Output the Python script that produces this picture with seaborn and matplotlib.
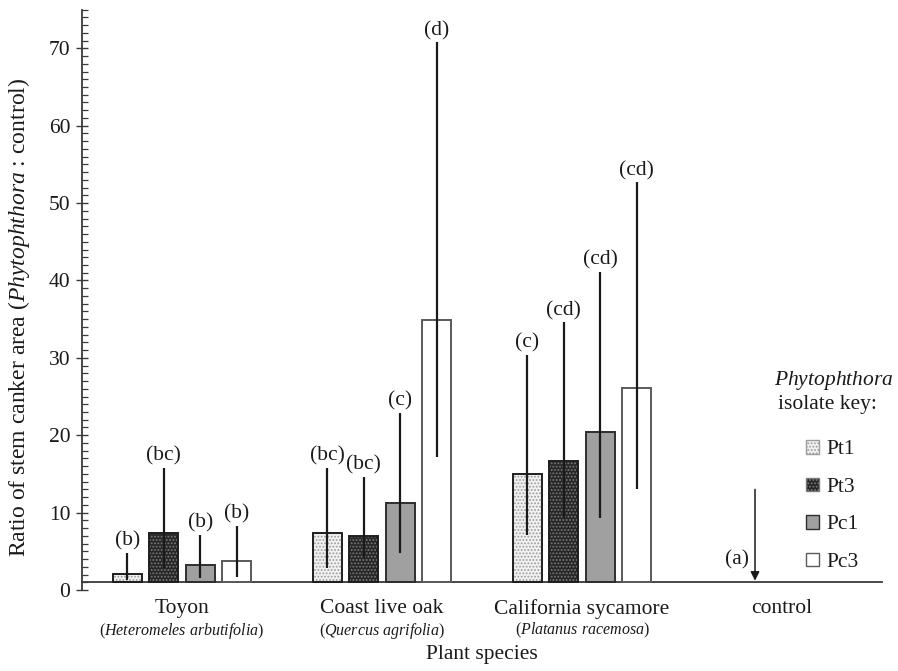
import numpy as np
import pandas as pd
import seaborn as sns
import matplotlib
matplotlib.use("Agg")
import matplotlib.pyplot as plt
from matplotlib.patches import Patch, Rectangle

# ---------------- data ----------------
species = ["Toyon", "Coast live oak", "California sycamore", "control"]
sci_names = ["Heteromeles arbutifolia", "Quercus agrifolia", "Platanus racemosa"]
isolates = ["Pt1", "Pt3", "Pc1", "Pc3"]

toyon_ratio = [2.1, 7.4, 3.2, 3.7]
oak_ratio = [7.4, 7.0, 11.2, 34.9]
sycamore_ratio = [15.0, 16.7, 20.4, 26.1]

toyon_lower = [1.3, 2.8, 1.5, 1.7]
toyon_upper = [4.8, 15.8, 7.1, 8.3]
oak_lower = [2.8, 4.1, 4.8, 17.2]
oak_upper = [15.8, 14.6, 22.9, 70.8]
sycamore_lower = [7.1, 9.3, 9.3, 13.0]
sycamore_upper = [30.4, 34.6, 41.1, 52.7]

toyon_letters = ["(b)", "(bc)", "(b)", "(b)"]
oak_letters = ["(bc)", "(bc)", "(c)", "(d)"]
sycamore_letters = ["(c)", "(cd)", "(cd)", "(cd)"]

control_ratio = 1.0
control_letter = "(a)"
y_ticks = [0, 10, 20, 30, 40, 50, 60, 70]

# ---------------- table ----------------
ratios = [toyon_ratio, oak_ratio, sycamore_ratio]
lowers = [toyon_lower, oak_lower, sycamore_lower]
uppers = [toyon_upper, oak_upper, sycamore_upper]
letters = [toyon_letters, oak_letters, sycamore_letters]
rows = []
for si, sp in enumerate(species[:3]):
    for ii, iso in enumerate(isolates):
        rows.append(dict(species=sp, isolate=iso, ratio=ratios[si][ii],
                         lower=lowers[si][ii], upper=uppers[si][ii],
                         letter=letters[si][ii]))
df = pd.DataFrame(rows)

# ---------------- style ----------------
sns.set_style("ticks")
plt.rcParams["font.family"] = ["Liberation Serif", "DejaVu Serif"]
plt.rcParams["mathtext.fontset"] = "custom"
plt.rcParams["mathtext.rm"] = "Liberation Serif"
plt.rcParams["mathtext.it"] = "Liberation Serif:italic"
plt.rcParams["hatch.linewidth"] = 0.9
FS = 15.5
INK = "#1a1a1a"
AX = "#3a3a3a"

face = {"Pt1": "#f2f2f2", "Pt3": "#262626", "Pc1": "#a0a0a0", "Pc3": "#ffffff"}
hatch = {"Pt1": ".....", "Pt3": ".....", "Pc1": None, "Pc3": None}
hatch_col = {"Pt1": "#9c9c9c", "Pt3": "#7a7a7a", "Pc1": "#1e1e1e", "Pc3": "#5a5a5a"}
outline = {"Pt1": "#1e1e1e", "Pt3": "#1e1e1e", "Pc1": "#2e2e2e", "Pc3": "#5a5a5a"}

fig = plt.figure(figsize=(8.98, 6.71), dpi=100)
ax = fig.add_axes([0.0913, 0.1207, 0.8909, 0.865])

sns.barplot(data=df, x="species", y="ratio", hue="isolate", order=species,
            hue_order=isolates, palette=face, width=0.73, gap=0.2,
            errorbar=None, legend=False, ax=ax, linewidth=0)

baseline = control_ratio
for iso, cont in zip(isolates, ax.containers):
    sub = df[df.isolate == iso].set_index("species").loc[species[:3]]
    for p, (_, r) in zip(cont.patches, sub.iterrows()):
        h = p.get_height()
        p.set_y(baseline)
        p.set_height(h - baseline)
        p.set_edgecolor(hatch_col[iso])
        if hatch[iso]:
            p.set_hatch(hatch[iso])
        ax.add_patch(Rectangle(p.get_xy(), p.get_width(), p.get_height(),
                               fill=False, edgecolor=outline[iso], lw=1.4, zorder=3))
        xc = p.get_x() + p.get_width() / 2
        ax.vlines(xc, r["lower"], r["upper"], color=INK, lw=1.6, zorder=5)
        ax.annotate(r["letter"], (xc, r["upper"]), xytext=(0, 1.5),
                    textcoords="offset points", ha="center", va="bottom",
                    fontsize=FS, color=INK)

# control
xc_ctrl = 3
ax.annotate("", xy=(xc_ctrl - 0.135, control_ratio + 0.2),
            xytext=(xc_ctrl - 0.135, 13.0),
            arrowprops=dict(arrowstyle="-|>", color=INK, lw=1.1,
                            mutation_scale=13, shrinkA=0, shrinkB=0))
ax.text(xc_ctrl - 0.225, control_ratio + 1.6, control_letter, ha="center",
        va="bottom", fontsize=FS, color=INK)

# axes
ax.set_xlim(-0.5, 3.5)
ax.set_ylim(0, 75)
ax.set_yticks(y_ticks)
ax.set_yticks(np.arange(0, 76, 1), minor=True)
ax.tick_params(axis="y", which="major", direction="inout", length=9, width=1,
               color=AX, labelsize=FS, pad=4, labelcolor=INK)
ax.tick_params(axis="y", which="minor", direction="in", length=4, width=0.9, color=AX)
ax.tick_params(axis="x", length=0, labelsize=FS, pad=12, labelcolor=INK)
ax.set_xticks(range(len(species)))
ax.set_xticklabels(species)
ax.spines["bottom"].set_position(("data", baseline))
for s in ["top", "right"]:
    ax.spines[s].set_visible(False)
for s in ["left", "bottom"]:
    ax.spines[s].set_color(AX)
    ax.spines[s].set_linewidth(1.3)

ax.set_ylabel(r"Ratio of stem canker area ($\it{Phytophthora}$ : control)",
              fontsize=17, color=INK)
ax.yaxis.set_label_coords(-0.062, 0.47)
ax.set_xlabel("")

for i, nm in enumerate(sci_names):
    ax.annotate("(" + r"$\it{" + nm.replace(" ", r"\ ") + "}$" + ")",
                (i, baseline), xytext=(0, -28), textcoords="offset points",
                ha="center", va="top", fontsize=11.5, color=INK,
                annotation_clip=False)
fig.text(0.537, 0.024, "Plant species", ha="center", va="center",
         fontsize=FS, color=INK)

# legend
fig.text(0.928, 1 - 380 / 671, r"$\it{Phytophthora}$", ha="center", va="center",
         fontsize=FS, color=INK)
fig.text(0.921, 1 - 405 / 671, "isolate key:", ha="center", va="center",
         fontsize=FS, color=INK)
handles = [Patch(facecolor=face[i], edgecolor=hatch_col[i] if hatch[i] else outline[i],
                 hatch=hatch[i], lw=1.0) for i in isolates]
leg = fig.legend(handles, isolates, loc="upper left",
                 bbox_to_anchor=(806 / 898, 1 - 440 / 671), frameon=False,
                 fontsize=FS, handlelength=0.6, handleheight=0.6,
                 handletextpad=0.35, labelspacing=0.84, borderpad=0,
                 borderaxespad=0)
for t in leg.get_texts():
    t.set_color(INK)

fig.savefig("out.png", dpi=100)
